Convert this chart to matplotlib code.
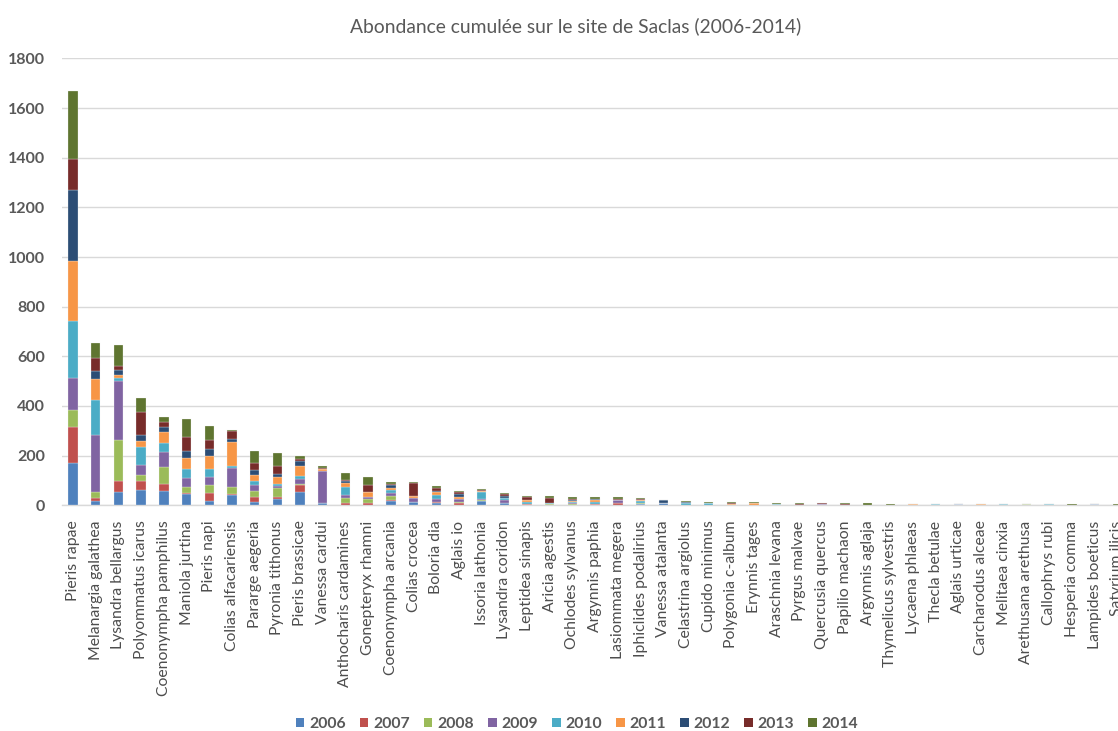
import numpy as np
import matplotlib.pyplot as plt
from matplotlib.patches import Patch

plt.rcParams['font.family'] = ['Lato', 'DejaVu Sans']

# especes, triees par abondance cumulee
especes = ['Pieris rapae', 'Melanargia galathea', 'Lysandra bellargus', 'Polyommatus icarus',
           'Coenonympha pamphilus', 'Maniola jurtina', 'Pieris napi', 'Colias alfacariensis',
           'Pararge aegeria', 'Pyronia tithonus', 'Pieris brassicae', 'Vanessa cardui',
           'Anthocharis cardamines', 'Gonepteryx rhamni', 'Coenonympha arcania', 'Colias crocea',
           'Boloria dia', 'Aglais io', 'Issoria lathonia', 'Lysandra coridon', 'Leptidea sinapis',
           'Aricia agestis', 'Ochlodes sylvanus', 'Argynnis paphia', 'Lasiommata megera',
           'Iphiclides podalirius', 'Vanessa atalanta', 'Celastrina argiolus', 'Cupido minimus',
           'Polygonia c-album', 'Erynnis tages', 'Araschnia levana', 'Pyrgus malvae',
           'Quercusia quercus', 'Papilio machaon', 'Argynnis aglaja', 'Thymelicus sylvestris',
           'Lycaena phlaeas', 'Thecla betulae', 'Aglais urticae', 'Carcharodus alceae',
           'Melitaea cinxia', 'Arethusana arethusa', 'Callophrys rubi', 'Hesperia comma',
           'Lampides boeticus', 'Satyrium ilicis']

annees = ['2006', '2007', '2008', '2009', '2010', '2011', '2012', '2013', '2014']

# effectifs par annee (meme ordre que especes)
n2006 = [170, 17, 54, 63, 58, 47, 17, 42, 15, 27, 54, 8, 0, 0, 19, 15, 8, 0, 17, 8, 0, 0, 0, 0,
         0, 6, 8, 0, 0, 0, 0, 2, 0, 0, 0, 0, 0, 0, 0, 5, 0, 0, 0, 0, 0, 5, 0]
n2007 = [145, 11, 45, 36, 28, 4, 33, 5, 19, 7, 28, 0, 9, 9, 4, 0, 5, 8, 0, 0, 5, 0, 2, 5,
         8, 0, 0, 0, 0, 0, 0, 0, 2, 0, 2, 0, 0, 0, 0, 0, 0, 0, 0, 0, 0, 0, 0]
n2008 = [67, 26, 166, 22, 67, 21, 32, 25, 25, 34, 4, 0, 22, 16, 14, 0, 0, 5, 3, 0, 0, 7, 2, 0,
         0, 3, 0, 3, 3, 0, 3, 0, 0, 0, 0, 2, 2, 0, 0, 0, 0, 0, 5, 0, 0, 0, 0]
n2009 = [131, 229, 235, 41, 63, 37, 32, 77, 23, 8, 19, 130, 9, 10, 12, 16, 12, 11, 7, 13, 0, 0, 5, 0,
         13, 2, 2, 0, 0, 0, 0, 0, 0, 6, 0, 0, 0, 0, 0, 0, 0, 0, 0, 0, 0, 0, 0]
n2010 = [230, 143, 13, 71, 36, 37, 31, 9, 17, 11, 12, 0, 32, 0, 14, 0, 15, 0, 26, 7, 8, 4, 3, 8,
         0, 6, 0, 5, 5, 0, 0, 2, 0, 0, 0, 0, 0, 0, 5, 0, 0, 5, 0, 5, 0, 0, 0]
n2011 = [241, 82, 10, 27, 42, 43, 53, 98, 23, 26, 40, 8, 19, 20, 5, 5, 12, 11, 5, 2, 8, 0, 6, 8,
         0, 5, 0, 3, 0, 5, 7, 0, 0, 0, 0, 0, 0, 5, 0, 0, 5, 0, 0, 0, 0, 0, 0]
n2012 = [284, 31, 21, 23, 21, 31, 27, 13, 19, 13, 21, 2, 8, 0, 12, 0, 5, 10, 0, 8, 0, 0, 2, 3,
         0, 0, 10, 2, 0, 0, 0, 3, 0, 0, 0, 0, 0, 0, 0, 0, 0, 0, 0, 0, 0, 0, 0]
n2013 = [125, 55, 19, 94, 19, 55, 36, 31, 31, 32, 7, 3, 2, 25, 4, 55, 13, 10, 2, 9, 11, 20, 6, 0,
         6, 2, 0, 1, 0, 4, 0, 0, 4, 3, 4, 0, 0, 0, 0, 0, 0, 0, 0, 0, 0, 0, 0]
n2014 = [277, 61, 84, 55, 20, 71, 58, 2, 45, 54, 13, 7, 30, 32, 11, 4, 7, 4, 4, 2, 4, 5, 6, 8,
         5, 4, 3, 5, 7, 4, 3, 2, 3, 0, 3, 7, 3, 0, 0, 0, 0, 0, 0, 0, 5, 0, 5]

series = [n2006, n2007, n2008, n2009, n2010, n2011, n2012, n2013, n2014]
couleurs = ['#4F81BD', '#C0504D', '#9BBB59', '#8064A2', '#4BACC6',
            '#F79646', '#2C4D75', '#772C2A', '#5F7530']

fig = plt.figure(figsize=(11.18, 7.31), dpi=100)
# zone de trace plus large que la figure : la derniere espece est coupee a droite
ax = fig.add_axes([61.7 / 1118, 1 - 505.3 / 731, 47 * 22.7 / 1118, (505.3 - 58.4) / 731])

x = np.arange(len(especes))
bas = np.zeros(len(especes))
for annee, vals, c in zip(annees, series, couleurs):
    vals = np.array(vals, dtype=float)
    ax.bar(x, vals, width=0.41, bottom=bas, color=c, edgecolor='#F2F2F2', linewidth=0.2, zorder=3)
    bas += vals

ax.set_xlim(-0.5, len(especes) - 0.5)
ax.set_ylim(0, 1800)
ax.set_yticks(range(0, 1801, 200))
ax.grid(axis='y', color='#D9D9D9', linewidth=1, zorder=0)
for s in ['top', 'right', 'left']:
    ax.spines[s].set_visible(False)
ax.spines['bottom'].set_color('#D9D9D9')
ax.spines['bottom'].set_linewidth(1)

ax.set_xticks(x)
ax.set_xticklabels(especes, rotation=90, fontsize=11.3, color='#4D4D4D')
ax.tick_params(axis='x', length=0, pad=11)
ax.tick_params(axis='y', length=0, pad=12, labelsize=11.5, labelcolor='#595959')
for t in ax.get_yticklabels():
    t.set_fontweight('bold')

fig.text(576 / 1118, 1 - 26 / 731, 'Abondance cumulée sur le site de Saclas (2006-2014)',
         ha='center', va='center', fontsize=13.9, color='#595959')

poignees = [Patch(facecolor=c, edgecolor='none', label=a) for a, c in zip(annees, couleurs)]
leg = fig.legend(handles=poignees, loc='center', bbox_to_anchor=(577 / 1118, 1 - 724 / 731),
                 ncol=9, frameon=False, fontsize=11.3, handlelength=0.55, handleheight=0.55,
                 handletextpad=0.3, columnspacing=0.9, borderaxespad=0)
for t in leg.get_texts():
    t.set_color('#595959')
    t.set_fontweight('bold')

fig.savefig('out.png', dpi=100)
